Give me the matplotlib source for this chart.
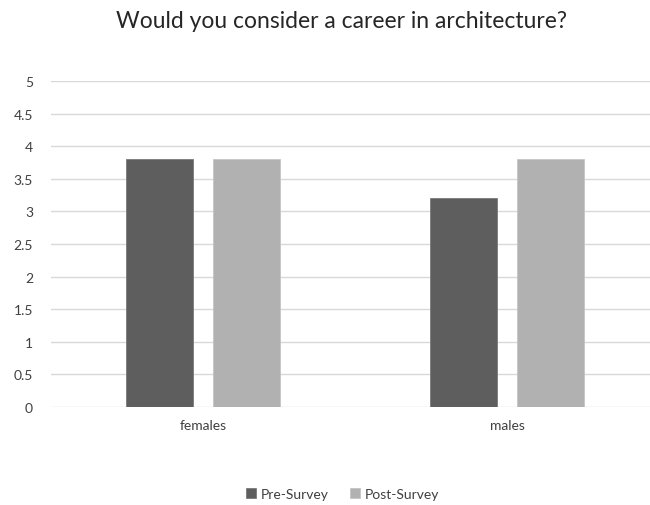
import matplotlib
matplotlib.use("Agg")
import matplotlib.pyplot as plt
import numpy as np

categories = ["females", "males"]
series_names = ["Pre-Survey", "Post-Survey"]
pre_values = [3.8, 3.2]
post_values = [3.8, 3.8]
yticks = [0, 0.5, 1, 1.5, 2, 2.5, 3, 3.5, 4, 4.5, 5]
ytick_labels = ["0", "0.5", "1", "1.5", "2", "2.5", "3", "3.5", "4", "4.5", "5"]

plt.rcParams['font.family'] = ['Lato', 'DejaVu Sans']

W, H = 650, 506
fig = plt.figure(figsize=(W / 100, H / 100), dpi=100)
left, right = 51 / W, 650 / W
bottom, top = 1 - 408 / H, 1 - 82 / H
ax = fig.add_axes([left, bottom, right - left, top - bottom])

x = np.arange(len(categories))
bw = 0.22
off = 0.143
ax.bar(x - off, pre_values, bw, color="#5e5e5e", edgecolor="#7a7a7a", linewidth=0.6,
       label=series_names[0], zorder=3)
ax.bar(x + off, post_values, bw, color="#b1b1b1", edgecolor="#c4c4c4", linewidth=0.6,
       label=series_names[1], zorder=3)

ax.set_ylim(0, 5)
ax.set_xlim(-0.5, 1.5 - 9 / 304)
ax.set_yticks(yticks)
ax.set_yticklabels(ytick_labels)
ax.set_xticks(x)
ax.set_xticklabels(categories)
ax.yaxis.grid(True, color="#d9d9d9", linewidth=1, zorder=0)
for s in ax.spines.values():
    s.set_visible(False)
ax.tick_params(axis="both", length=0, labelsize=10, colors="#404040")
ax.tick_params(axis="y", pad=13)
ax.tick_params(axis="x", pad=9)

fig.text(342 / W, 1 - 22 / H, "Would you consider a career in architecture?",
         ha="center", va="center", fontsize=16.5, color="#262626")

fig.legend(loc="center", bbox_to_anchor=(0.527, 1 - 495 / H), ncol=2, frameon=False,
           fontsize=10, handlelength=0.7, handleheight=0.7, handletextpad=0.3,
           columnspacing=1.6, labelcolor="#404040")

fig.savefig("out.png", dpi=100)
